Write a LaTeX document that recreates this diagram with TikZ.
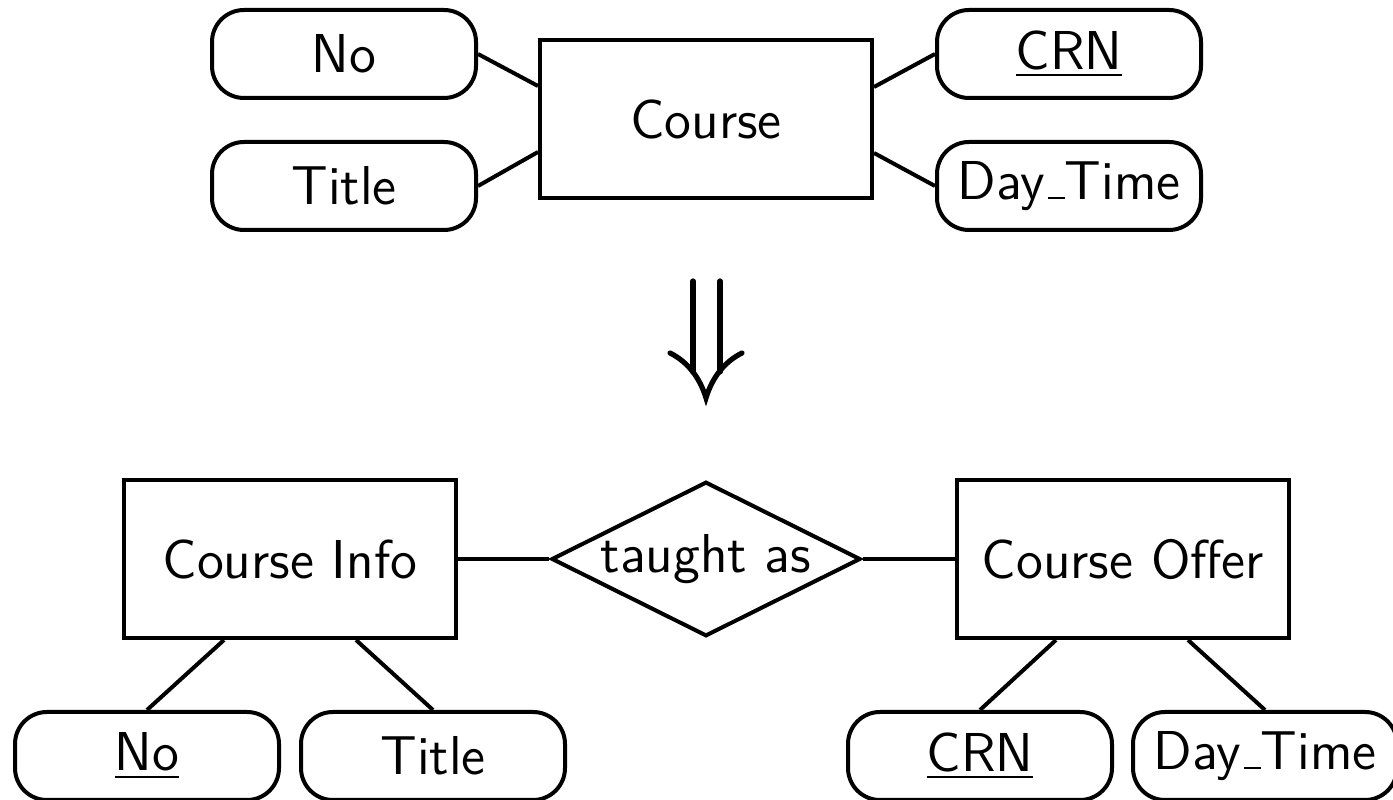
\documentclass[tikz,border=0pt]{standalone}
\usetikzlibrary{shapes.geometric,calc}
\newcommand\uscr{\leavevmode\kern.06em\vbox{\hrule height 0.55pt width .3em}}
\begin{document}
\begin{tikzpicture}[x=0.25pt,y=-0.25pt,line width=1pt,
  font=\sffamily\fontsize{13.7}{16}\selectfont,
  attr/.style={draw,rounded corners=8pt,minimum width=66pt,minimum height=22pt,inner sep=0pt},
  ent/.style={draw,minimum width=83pt,minimum height=39.5pt,inner sep=0pt},
  rel/.style={draw,diamond,shape aspect=2,inner sep=0pt,minimum width=76.75pt,minimum height=38.5pt},
  arr/.style={line width=1.3pt,line cap=round}]
\useasboundingbox (0,0) rectangle (1393,800);
% top
\node[ent] (course) at (706,119) {Course};
\node[attr] (no) at (344,54) {No};
\node[attr] (title) at (344,186) {Title};
\node[attr] (crn) at (1069,54) {\underline{CRN}};
\node[attr] (dt) at (1069,186) {Day\uscr Time};
\draw (no.east) -- ($(course.west)+(0,-33)$);
\draw (title.east) -- ($(course.west)+(0,33)$);
\draw (crn.west) -- ($(course.east)+(0,-32)$);
\draw (dt.west) -- ($(course.east)+(0,34)$);
% arrow
\draw[arr] (693,281) -- (693,372);
\draw[arr] (720,281) -- (720,372);
\draw[arr] (670,353) .. controls (688,362) and (700,378) .. (706,398)
  .. controls (712,378) and (724,362) .. (742,353);
% bottom
\node[ent] (info) at (290,559) {Course Info};
\node[rel] (taught) at (706,559) {taught as};
\node[ent] (offer) at (1123,559) {Course Offer};
\draw (info.east) -- (taught.west);
\draw (taught.east) -- (offer.west);
\node[attr] (bno) at (147,756) {\underline{No}};
\node[attr] (btitle) at (433,756) {Title};
\node[attr] (bcrn) at (980,756) {\underline{CRN}};
\node[attr] (bdt) at (1265,756) {Day\uscr Time};
\draw ($(info.south)+(-66,0)$) -- (bno.north);
\draw ($(info.south)+(66,0)$) -- (btitle.north);
\draw ($(offer.south)+(-67,0)$) -- (bcrn.north);
\draw ($(offer.south)+(65,0)$) -- (bdt.north);
\end{tikzpicture}
\end{document}
